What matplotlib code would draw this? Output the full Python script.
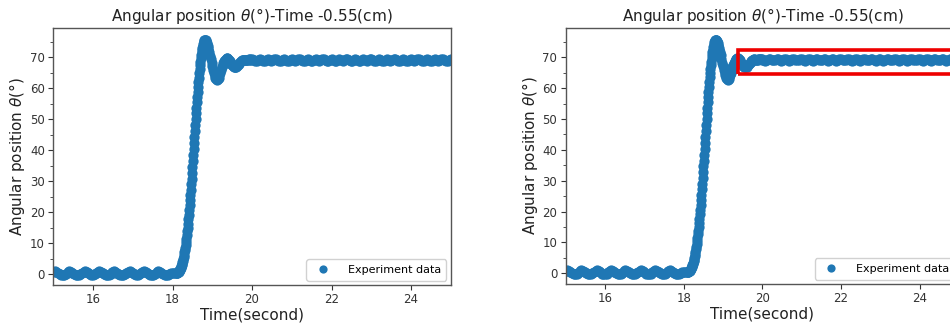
import numpy as np
import matplotlib
matplotlib.use("Agg")
import matplotlib.pyplot as plt
from matplotlib.ticker import MultipleLocator
from matplotlib.patches import Rectangle

# ---- data ----
# baseline segment: t = 15.00 .. 18.08, step 0.04
t_base_start, t_base_step = 15.00, 0.04
theta_base = [
    0.8, 0.9, 0.7, 0.4, 0.0, -0.3, -0.4, -0.2, 0.2, 0.6,
    0.9, 0.8, 0.5, 0.1, -0.2, -0.4, -0.3, 0.0, 0.4, 0.8,
    0.9, 0.7, 0.3, -0.1, -0.4, -0.4, -0.1, 0.3, 0.7, 0.9,
    0.8, 0.5, 0.1, -0.3, -0.4, -0.2, 0.2, 0.6, 0.9, 0.8,
    0.5, 0.1, -0.2, -0.4, -0.3, 0.0, 0.4, 0.8, 0.9, 0.7,
    0.3, -0.1, -0.4, -0.4, -0.1, 0.3, 0.7, 0.9, 0.8, 0.4,
    0.0, -0.3, -0.4, -0.2, 0.2, 0.6, 0.9, 0.8, 0.5, 0.1,
    -0.2, -0.4, -0.3, 0.0, 0.3, 0.5, 0.4, 0.3,
]
# rise segment: t = 18.10 .. 18.90, step 0.01
t_rise_start, t_rise_step = 18.10, 0.01
theta_rise = [
    0.3, 0.4, 0.5, 0.6, 0.7, 0.8, 1.0, 1.2, 1.4, 1.7,
    2.0, 2.3, 2.6, 3.0, 3.4, 3.9, 4.4, 5.0, 5.6, 6.3,
    7.0, 7.8, 8.6, 9.5, 10.5, 11.5, 12.6, 13.8, 15.0, 16.3,
    17.7, 19.1, 20.6, 22.2, 23.8, 25.5, 27.2, 29.0, 30.8, 32.7,
    34.6, 36.5, 38.4, 40.4, 42.3, 44.3, 46.2, 48.1, 50.0, 51.9,
    53.7, 55.5, 57.2, 58.9, 60.5, 62.0, 63.5, 64.9, 66.2, 67.4,
    68.6, 69.7, 70.7, 71.6, 72.4, 73.2, 73.8, 74.4, 74.9, 75.2,
    75.5, 75.6, 75.6, 75.5, 75.3, 75.0, 74.6, 74.1, 73.6, 73.0,
    72.4,
]
# oscillation segment: t = 18.92 .. 19.98, step 0.02
t_osc_start, t_osc_step = 18.92, 0.02
theta_osc = [
    71.6, 70.6, 69.5, 68.3, 67.1, 66.0, 65.0, 64.1, 63.4, 62.9,
    62.8, 63.0, 63.5, 64.2, 65.0, 65.9, 66.8, 67.6, 68.3, 68.8,
    69.3, 69.6, 69.7, 69.7, 69.5, 69.1, 68.7, 68.2, 67.8, 67.4,
    67.1, 66.9, 66.8, 66.8, 66.9, 67.2, 67.5, 67.9, 68.3, 68.6,
    68.9, 69.1, 69.2, 69.3, 69.3, 69.2, 69.1, 69.1, 69.2, 69.3,
    69.4, 69.4, 69.3, 69.2,
]
# plateau segment: t = 20.00 .. 25.16, step 0.04
t_plat_start, t_plat_step = 20.00, 0.04
theta_plat = [
    69.4, 69.2, 68.9, 69.0, 69.3, 69.5, 69.2, 69.0, 69.0, 69.3,
    69.4, 69.1, 68.9, 69.1, 69.4, 69.4, 69.2, 68.9, 69.0, 69.3,
    69.5, 69.2, 69.0, 69.0, 69.3, 69.4, 69.1, 68.9, 69.1, 69.4,
    69.4, 69.2, 68.9, 69.0, 69.3, 69.5, 69.2, 69.0, 69.0, 69.3,
    69.4, 69.1, 68.9, 69.1, 69.4, 69.4, 69.2, 68.9, 69.0, 69.3,
    69.5, 69.2, 69.0, 69.0, 69.3, 69.4, 69.1, 68.9, 69.1, 69.4,
    69.4, 69.2, 68.9, 69.0, 69.3, 69.5, 69.2, 69.0, 69.0, 69.3,
    69.4, 69.1, 68.9, 69.1, 69.4, 69.4, 69.2, 68.9, 69.0, 69.3,
    69.5, 69.2, 69.0, 69.0, 69.3, 69.4, 69.1, 68.9, 69.1, 69.4,
    69.4, 69.2, 68.9, 69.0, 69.3, 69.5, 69.2, 69.0, 69.0, 69.3,
    69.4, 69.1, 68.9, 69.1, 69.4, 69.4, 69.2, 68.9, 69.0, 69.3,
    69.5, 69.2, 69.0, 69.0, 69.3, 69.4, 69.1, 68.9, 69.1, 69.4,
    69.4, 69.2, 68.9, 69.0, 69.3, 69.5, 69.2, 69.0, 69.0, 69.3,
]

title_text = r"Angular position $\theta$(°)-Time -0.55(cm)"
xlabel_text = "Time(second)"
ylabel_text = r"Angular position $\theta$(°)"
legend_text = "Experiment data"
highlight_box = (19.37, 64.7, 7.0, 7.8)   # x0, y0, width, height (data units)


def seg_time(start, step, vals):
    return start + step * np.arange(len(vals))


t_all = np.concatenate([
    seg_time(t_base_start, t_base_step, theta_base),
    seg_time(t_rise_start, t_rise_step, theta_rise),
    seg_time(t_osc_start, t_osc_step, theta_osc),
    seg_time(t_plat_start, t_plat_step, theta_plat),
])
theta_all = np.concatenate([theta_base, theta_rise, theta_osc, theta_plat])

W, H, DPI = 950, 329, 100
fig = plt.figure(figsize=(W / DPI, H / DPI), dpi=DPI)

blue = "#1f77b4"


def make_axes(left_px, right_px, top_px, bottom_px):
    ax = fig.add_axes([left_px / W, 1 - bottom_px / H,
                       (right_px - left_px) / W, (bottom_px - top_px) / H])
    ax.plot(t_all, theta_all, "o", color=blue, markersize=7.4,
            markeredgewidth=0, label=legend_text)
    ax.set_xlim(15, 25)
    ax.set_ylim(-3.5, 79.5)
    ax.xaxis.set_major_locator(MultipleLocator(2))
    ax.yaxis.set_major_locator(MultipleLocator(10))
    ax.yaxis.set_minor_locator(MultipleLocator(5))
    ax.tick_params(axis="both", which="major", labelsize=8.5, length=3.5,
                   width=0.8, colors="#333333", pad=2.5)
    ax.tick_params(axis="y", which="minor", length=2, width=0.6, colors="#333333")
    for s in ax.spines.values():
        s.set_color("#555555")
        s.set_linewidth(1.0)
    ax.set_title(title_text, fontsize=11, color="#222222", pad=5)
    ax.set_xlabel(xlabel_text, fontsize=11, color="#222222", labelpad=1)
    ax.set_ylabel(ylabel_text, fontsize=11, color="#222222", labelpad=2)
    ax.legend(loc="lower right", fontsize=8, markerscale=0.8,
              handletextpad=1.2, borderpad=0.5, framealpha=0.9,
              borderaxespad=0.4)
    return ax


ax1 = make_axes(53.3, 450.8, 28, 285)
ax2 = make_axes(565.7, 959.0, 28, 284)

x0, y0, w, h = highlight_box
ax2.add_patch(Rectangle((x0, y0), w, h, fill=False, edgecolor="#ee0000",
                        linewidth=2.6, zorder=5))

fig.savefig("out.png", dpi=DPI)
